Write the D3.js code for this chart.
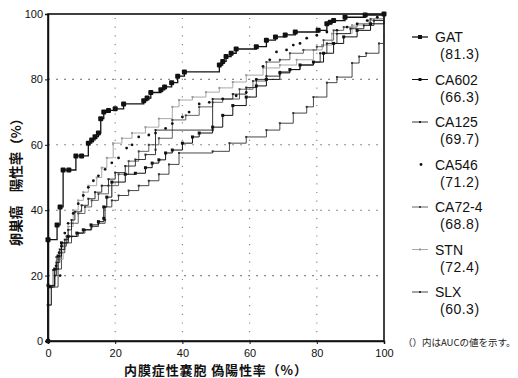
<!DOCTYPE html>
<html>
<head>
<meta charset="utf-8">
<script src="https://cdn.jsdelivr.net/npm/d3@7"></script>
<style>
  body { margin: 0; background: #fff; }
  svg { display: block; }
</style>
</head>
<body>
<svg id="chart" width="518" height="378"></svg>
<script>
// ROC points [false positive %, true positive %], drawn as step-after
const gat = [[0,0],[0,31],[2.7,35.5],[3.6,41],[4.5,52.3],[6.2,52.3],[8.3,56.6],[10,56.6],[12,60.5],[13,61.5],[14,62.5],[15,63.6],[15.7,68],[16.6,70],[18,70.5],[20,71],[22.5,72.5],[28.5,73.5],[29.5,74.3],[30.6,76],[33.6,76.8],[34.7,77.7],[36.8,79],[38.6,81],[40.6,82.3],[51,84.4],[52,85.5],[53,87],[54.5,88],[56,89.3],[62,90],[65,92],[67.7,93],[70.6,93.6],[73.6,94.5],[80.4,95],[83,97],[84,97.5],[85,98],[88.4,99],[94.4,99.7],[100,100]];
const ca602 = [[0,0],[0,17],[2,22],[3,26],[4,30],[6,32],[8.6,33],[10.5,34],[12.8,35.5],[15,36.5],[16.6,37.5],[16.6,41],[17.5,44],[19,48.6],[23,51],[26,51.3],[29,53],[31,54.4],[33,55.4],[35,57.5],[37,58.4],[40,60.5],[43,62.4],[45,63.6],[49,65.4],[52,69],[55,72],[59,74.6],[62,78],[65,80],[69,82],[72,83],[75,84.4],[79,85.3],[82,88],[85,91],[88,93],[92,95],[96,97],[100,100]];
const ca125 = [[0,0],[0,11],[1,16.5],[2,20],[2.5,24],[3.5,28],[5,31],[6,34],[7,37],[8,39.5],[10,41.5],[12,43.5],[14,45.5],[16,47.5],[18,49.5],[20,51.5],[23,53.5],[26,55.5],[29,57],[32,58.5],[32,64.5],[49,64.5],[49,74],[55,75.5],[59,77.5],[62,80],[65,81],[69,82.3],[72,83],[75,84.4],[79,85.3],[81,88],[83,91],[86,94],[90,95.5],[94,96.5],[97,98],[100,100]];
const ca546 = [[0,0],[0,11],[0.6,16.5],[3.6,20],[2.4,23],[3.3,27],[4,29],[5,33],[6,36],[7.5,39],[9,42],[10.5,44.5],[12,47],[13.5,49],[15,50.5],[17,52.5],[19,54.5],[21,56],[23.4,59],[25,60],[27,62.4],[30,63],[32,63.6],[35,65],[37,66.5],[40,68.5],[42,70],[45,72.5],[48,73],[52,74],[56,75],[59,76],[62,80],[64,84],[66,86],[68,88.4],[71,89],[73,90.5],[75,91],[77,92.6],[80,93.5],[83,94.5],[86,95],[89,96],[92,97],[95,98],[98,99],[100,100]];
const ca724 = [[0,0],[0,16.5],[1.5,21.7],[2.5,25.7],[4,29],[5.5,32],[7,36],[9,39],[11,41],[13,43],[15,45],[18,47.5],[21,51],[24,55],[27,58],[30,60],[33,62],[37,67.6],[41,69],[45,71.6],[49,73],[52,74],[57,77],[61,79.5],[65,85.3],[69,86],[72,88],[76,89],[80,90],[82,92],[85,95],[88,96],[92,97],[96,98.5],[100,100]];
const stn = [[0,0],[0,11],[1,16.5],[2,22],[3,25],[4.5,30],[6,35],[7.5,40],[9,43],[10.5,45.5],[12,47.5],[14.5,50],[16,53],[17.5,56],[19.4,60.5],[22,62],[25,63.6],[29,65.4],[33,68],[37,71.6],[39,73.7],[43,74.6],[47,76.1],[51,77.4],[55,79.2],[59,81.3],[64,83.5],[69,84.4],[74,86],[79,89],[81.6,90.5],[84.5,94],[90.5,96.6],[95.5,98],[100,100]];
const slx = [[0,0],[0,11],[1,16.5],[3,22],[4,27],[5,30],[7,32],[9,33],[11,34],[13,35],[15,36],[17,37],[17,41],[19,43],[21,44.5],[24,46],[27,47.5],[30,49],[33,51],[36,54],[39,57.5],[49,58],[54,60.5],[59,62.4],[65,64.5],[69,66.6],[73,69.7],[77,71.6],[79,74.6],[83,79],[86,80.7],[90.5,85],[92.6,87],[94.7,88],[98.5,91],[100,93],[100,100]];

const seriesNames = ['GAT', 'CA602', 'CA125', 'CA546', 'CA72-4', 'STN', 'SLX'];
const seriesData = [gat, ca602, ca125, ca546, ca724, stn, slx];
const aucValues = ['81.3', '66.3', '69.7', '71.2', '68.8', '72.4', '60.3'];
const tickValues = [0, 20, 40, 60, 80, 100];

// line colour, line width, marker kind, marker size (0 width = no line)
const styles = [
  { stroke: '#111', width: 1.3, marker: 'rect', size: 5, fill: '#111' },
  { stroke: '#111', width: 1, marker: 'rect', size: 3, fill: '#111' },
  { stroke: '#222', width: 0.9, marker: 'rect', size: 2, fill: '#222' },
  { stroke: 'none', width: 0, marker: 'circle', size: 1.4, fill: '#111' },
  { stroke: '#555', width: 0.9, marker: 'rect', size: 2, fill: '#444' },
  { stroke: '#a8a8a8', width: 1, marker: 'rect', size: 2, fill: '#999' },
  { stroke: '#333', width: 0.9, marker: 'rect', size: 2, fill: '#333' }
];

const svg = d3.select('#chart');
const plot = { left: 48, right: 384, top: 14, bottom: 341 };

const x = d3.scaleLinear().domain([0, 100]).range([plot.left, plot.right]);
const y = d3.scaleLinear().domain([0, 100]).range([plot.bottom, plot.top]);

// grid
const grid = svg.append('g').attr('class', 'grid').attr('stroke', '#8a8a8a');
grid.selectAll('line.v')
  .data([20, 40, 60, 80])
  .join('line')
  .attr('class', 'v')
  .attr('x1', d => x(d)).attr('x2', d => x(d))
  .attr('y1', y(0)).attr('y2', y(100))
  .attr('stroke-width', 1.2)
  .attr('stroke-dasharray', '1.2,7.5');
grid.selectAll('line.h')
  .data([20, 40, 60, 80])
  .join('line')
  .attr('class', 'h')
  .attr('x1', x(0)).attr('x2', x(100))
  .attr('y1', d => y(d)).attr('y2', d => y(d))
  .attr('stroke-width', 1.1)
  .attr('stroke-dasharray', '2,6');

// axes
const xAxis = svg.append('g')
  .attr('transform', `translate(0,${plot.bottom})`)
  .call(d3.axisBottom(x).tickValues(tickValues).tickSize(3).tickPadding(5));
const yAxis = svg.append('g')
  .attr('transform', `translate(${plot.left},0)`)
  .call(d3.axisLeft(y).tickValues(tickValues).tickSize(3).tickPadding(2));
[xAxis, yAxis].forEach(a => {
  a.selectAll('text')
    .attr('font-family', 'Liberation Sans, Arial, sans-serif')
    .attr('font-size', 11)
    .attr('fill', '#111');
  a.selectAll('line').attr('stroke', '#111');
  a.select('.domain').attr('stroke', '#111').attr('stroke-width', 1.5);
});

// frame
svg.append('rect')
  .attr('x', plot.left).attr('y', plot.top)
  .attr('width', plot.right - plot.left).attr('height', plot.bottom - plot.top)
  .attr('fill', 'none')
  .attr('stroke', '#111')
  .attr('stroke-width', 1.6);

// curves
const line = d3.line()
  .x(d => x(d[0]))
  .y(d => y(d[1]))
  .curve(d3.curveStepAfter);

const drawOrder = [6, 5, 4, 2, 1, 3, 0];
drawOrder.forEach(i => {
  const st = styles[i];
  const g = svg.append('g').attr('class', 'series-' + i);
  if (st.width > 0) {
    g.append('path')
      .datum(seriesData[i])
      .attr('d', line)
      .attr('fill', 'none')
      .attr('stroke', st.stroke)
      .attr('stroke-width', st.width);
  }
  const pts = seriesData[i].slice(1);
  if (st.marker === 'circle') {
    g.selectAll('circle')
      .data(pts)
      .join('circle')
      .attr('cx', d => x(d[0]))
      .attr('cy', d => y(d[1]))
      .attr('r', st.size)
      .attr('fill', st.fill);
  } else {
    g.selectAll('rect')
      .data(pts)
      .join('rect')
      .attr('x', d => x(d[0]) - st.size / 2)
      .attr('y', d => y(d[1]) - st.size / 2)
      .attr('width', st.size)
      .attr('height', st.size)
      .attr('rx', st.size > 4 ? 1 : 0)
      .attr('fill', st.fill);
  }
});

// origin dot
svg.append('circle')
  .attr('cx', x(0)).attr('cy', y(0))
  .attr('r', 2.5).attr('fill', '#111');

// axis titles
svg.append('text')
  .attr('x', 124)
  .attr('y', 375)
  .attr('font-family', 'Noto Sans CJK JP, sans-serif')
  .attr('font-weight', 700)
  .attr('font-size', 13)
  .attr('textLength', 183)
  .attr('lengthAdjust', 'spacing')
  .attr('fill', '#111')
  .text('内膜症性嚢胞 偽陽性率（%）');

svg.append('text')
  .attr('transform', 'translate(16,179) rotate(-90)')
  .attr('text-anchor', 'middle')
  .attr('dy', '0.38em')
  .attr('font-family', 'Noto Sans CJK JP, sans-serif')
  .attr('font-weight', 700)
  .attr('font-size', 13.5)
  .attr('fill', '#111')
  .text('卵巣癌　陽性率（%）');

// legend
const legend = svg.append('g').attr('class', 'legend');
seriesNames.forEach((name, i) => {
  const st = styles[i];
  const cy = 37 + i * 42.5;
  const item = legend.append('g');
  if (st.width > 0) {
    item.append('line')
      .attr('x1', 412).attr('x2', 428)
      .attr('y1', cy).attr('y2', cy)
      .attr('stroke', st.stroke)
      .attr('stroke-width', st.width);
  }
  if (st.marker === 'circle') {
    item.append('circle').attr('cx', 421).attr('cy', cy).attr('r', 1.4).attr('fill', st.fill);
  } else {
    const s = Math.min(st.size, 4);
    item.append('rect')
      .attr('x', 420 - s / 2).attr('y', cy - s / 2)
      .attr('width', s).attr('height', s)
      .attr('fill', st.fill);
  }
  item.append('text')
    .attr('x', 435).attr('y', cy + 5)
    .attr('font-family', 'Liberation Sans, Arial, sans-serif')
    .attr('font-size', 14)
    .attr('fill', '#111')
    .text(name);
  item.append('text')
    .attr('x', 440).attr('y', cy + 22)
    .attr('font-family', 'Liberation Sans, Arial, sans-serif')
    .attr('font-size', 14)
    .attr('fill', '#111')
    .attr('letter-spacing', 0.5)
    .text('(' + aucValues[i] + ')');
});

svg.append('text')
  .attr('x', 403).attr('y', 346)
  .attr('font-family', 'Noto Sans CJK JP, sans-serif')
  .attr('font-size', 9.5)
  .attr('fill', '#222')
  .text('（）内はAUCの値を示す。');
</script>
</body>
</html>
